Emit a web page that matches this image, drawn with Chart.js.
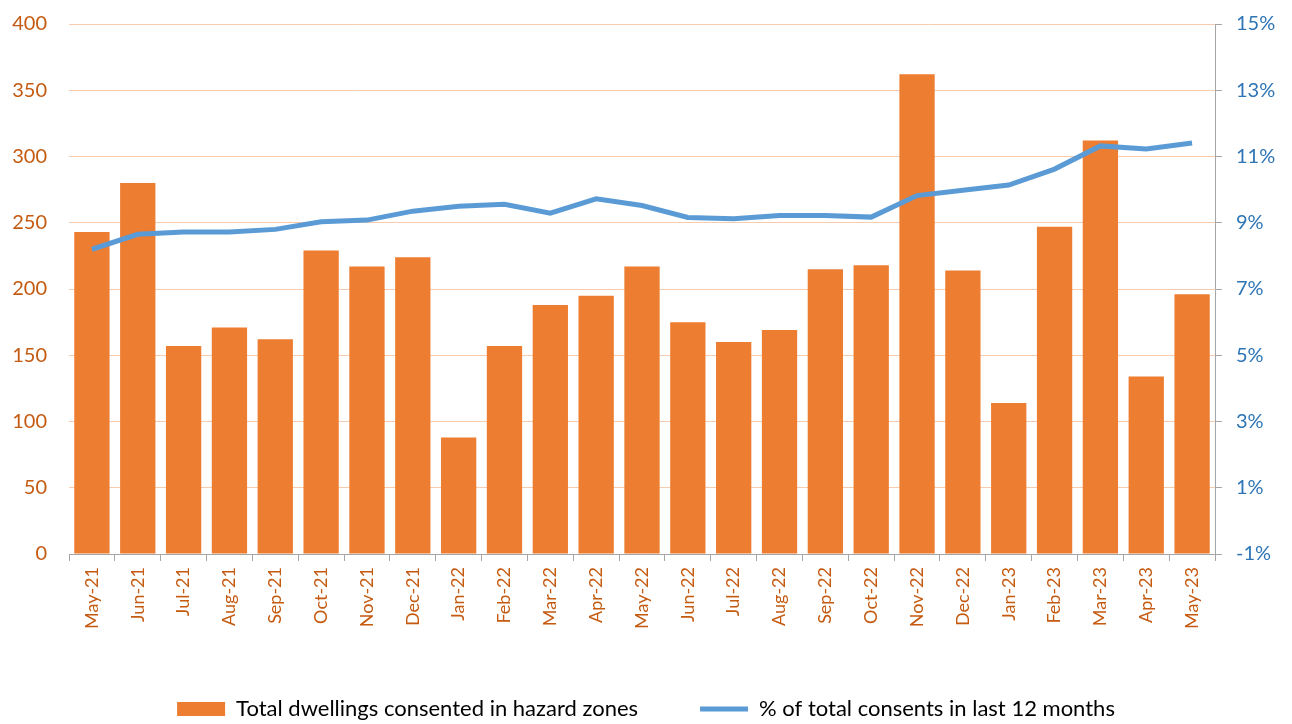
<!DOCTYPE html>
<html>
<head>
<meta charset="utf-8">
<script src="https://cdn.jsdelivr.net/npm/chart.js@4.4.1/dist/chart.umd.min.js"></script>
<style>
  body { margin: 0; background: #fff; }
  #wrap { width: 1292px; height: 724px; }
</style>
</head>
<body>
<div id="wrap"><canvas id="chart"></canvas></div>
<script>
const months = ["May-21", "Jun-21", "Jul-21", "Aug-21", "Sep-21", "Oct-21", "Nov-21", "Dec-21",
    "Jan-22", "Feb-22", "Mar-22", "Apr-22", "May-22", "Jun-22", "Jul-22", "Aug-22", "Sep-22",
    "Oct-22", "Nov-22", "Dec-22", "Jan-23", "Feb-23", "Mar-23", "Apr-23", "May-23"];

const dwellings = [243, 280, 157, 171, 162, 229, 217, 224, 88, 157, 188, 195, 217, 175, 160,
    169, 215, 218, 362, 214, 114, 247, 312, 134, 196];

const pctConsents = [8.2, 8.65, 8.72, 8.72, 8.8, 9.03, 9.08, 9.35, 9.5, 9.56, 9.29, 9.72, 9.52,
    9.16, 9.12, 9.22, 9.22, 9.17, 9.82, 9.98, 10.14, 10.62, 11.32, 11.23, 11.41];

const FONT = "Lato, 'Open Sans', sans-serif";
const ORANGE = "#ED7D31";
const BLUE = "#5B9BD5";
const GRID = "#F8CBAD";
const AXIS = "#A6A6A6";

// drop the half-label padding chart.js reserves above/below the value axes
const noPad = s => { s.paddingTop = 0; s.paddingBottom = 0; };

const ctx = document.getElementById("chart").getContext("2d");
new Chart(ctx, {
    type: "bar",
    data: {
        labels: months,
        datasets: [{
            label: "Total dwellings consented in hazard zones",
            data: dwellings,
            backgroundColor: ORANGE,
            borderWidth: 0,
            barPercentage: 0.77,
            categoryPercentage: 1,
            yAxisID: "y",
            order: 1
        }, {
            type: "line",
            label: "% of total consents in last 12 months",
            data: pctConsents,
            borderColor: BLUE,
            backgroundColor: BLUE,
            borderWidth: 5,
            pointRadius: 0,
            tension: 0,
            yAxisID: "y1",
            order: 0
        }]
    },
    options: {
        responsive: true,
        maintainAspectRatio: false,
        animation: false,
        layout: { padding: { top: 24, left: 0, right: 0, bottom: -6 } },
        plugins: {
            tooltip: { enabled: false },
            legend: {
                position: "bottom",
                labels: {
                    usePointStyle: true,
                    pointStyleWidth: 48,
                    boxHeight: 14,
                    padding: 62,
                    color: "#000",
                    font: { family: FONT, size: 22 },
                    sort: (a, b) => a.datasetIndex - b.datasetIndex,
                    generateLabels: chart => chart.data.datasets.map((ds, i) => ({
                        text: ds.label,
                        datasetIndex: i,
                        fillStyle: ds.backgroundColor,
                        strokeStyle: ds.type === "line" ? ds.borderColor : ds.backgroundColor,
                        lineWidth: ds.type === "line" ? 5 : 0,
                        pointStyle: ds.type === "line" ? "line" : "rect",
                        fontColor: "#000",
                        hidden: false
                    }))
                }
            }
        },
        scales: {
            x: {
                offset: true,
                grid: { offset: true, drawOnChartArea: false, color: AXIS, tickLength: 7 },
                border: { color: AXIS },
                ticks: {
                    color: "#C55A11",
                    font: { family: FONT, size: 18 },
                    minRotation: 90,
                    maxRotation: 90,
                    padding: 6,
                    autoSkip: false
                },
                afterFit: s => { s.height = 82; }
            },
            y: {
                position: "left",
                min: 0,
                max: 400,
                ticks: { stepSize: 50, color: "#C55A11", font: { family: FONT, size: 20 }, padding: 22 },
                grid: { color: GRID, drawTicks: false },
                border: { display: false },
                afterFit: s => { s.width = 69; noPad(s); }
            },
            y1: {
                position: "right",
                min: -1,
                max: 15,
                ticks: {
                    stepSize: 2,
                    color: "#2E75B6",
                    font: { family: FONT, size: 20 },
                    padding: 14,
                    callback: v => v + "%"
                },
                grid: { drawOnChartArea: false, color: AXIS, tickLength: 7 },
                border: { color: AXIS },
                afterFit: s => { s.width = 77; noPad(s); }
            }
        }
    }
});
</script>
</body>
</html>
